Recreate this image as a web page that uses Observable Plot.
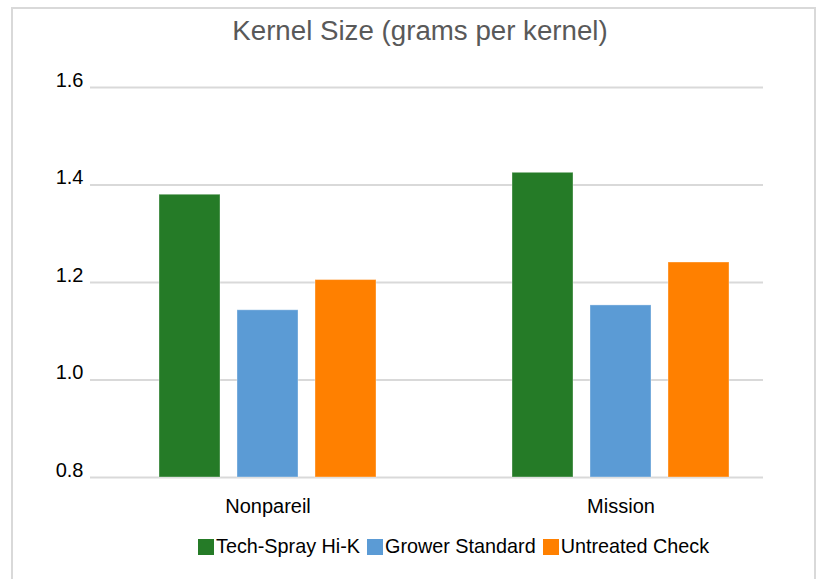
<!DOCTYPE html>
<html>
<head>
<meta charset="utf-8">
<script src="https://cdn.jsdelivr.net/npm/d3@7"></script>
<script src="https://cdn.jsdelivr.net/npm/@observablehq/plot@0.6"></script>
<style>
  html, body { margin: 0; padding: 0; background: #fff; overflow: hidden; }
  body { width: 821px; height: 579px; position: relative; font-family: "Liberation Sans", Arial, sans-serif; }
  #frame { position: absolute; left: 11px; top: 7px; width: 801px; height: 620px; border: 2px solid #d9d9d9; box-sizing: content-box; }
  #title { position: absolute; left: 0; width: 840px; top: 17px; text-align: center; font-size: 27.7px; line-height: 27.7px; color: #595959; white-space: nowrap; }
  .layer { position: absolute; left: 0; top: 0; }
  #legend { position: absolute; left: 198px; top: 535px; display: flex; align-items: center; font-size: 19.8px; color: #000; white-space: nowrap; }
  .item { display: flex; align-items: center; margin-right: 7px; }
  .sw { width: 16px; height: 16px; display: inline-block; margin-right: 2px; }
</style>
</head>
<body>
<div id="frame"></div>
<div id="title">Kernel Size (grams per kernel)</div>
<div id="grid" class="layer"></div>
<div id="chart" class="layer"></div>
<div id="legend"></div>
<script>
// ---- data ----
const categories = ["Nonpareil", "Mission"];
const series = ["Tech-Spray Hi-K", "Grower Standard", "Untreated Check"];
const techSprayHiK = [1.38, 1.425];
const growerStandard = [1.143, 1.153];
const untreatedCheck = [1.205, 1.241];
const yTicks = [0.8, 1.0, 1.2, 1.4, 1.6];
const seriesColors = ["#257b27", "#5b9bd5", "#ff8000"];

const seriesValues = [techSprayHiK, growerStandard, untreatedCheck];
const rows = [];
categories.forEach((c, i) => {
  series.forEach((s, j) => rows.push({category: c, series: s, value: seriesValues[j][i]}));
});

const font = "'Liberation Sans', Arial, sans-serif";
const common = {
  width: 821,
  height: 522,
  marginTop: 87,
  marginBottom: 45,
  marginLeft: 90,
  marginRight: 58,
  style: {fontFamily: font, background: "none", color: "#000"},
  y: {domain: [yTicks[0], yTicks[yTicks.length - 1]]}
};

// background layer: gridlines + y axis
const grid = Plot.plot({
  ...common,
  marks: [
    Plot.ruleY(yTicks, {stroke: "#d9d9d9", strokeWidth: 2}),
    Plot.axisY({ticks: yTicks, tickFormat: d3.format(".1f"), tickSize: 0, tickPadding: 7, dy: -7, fontSize: 20, label: null, fill: "#000"})
  ]
});
document.getElementById("grid").appendChild(grid);

// foreground layer: grouped bars
const chart = Plot.plot({
  ...common,
  fx: {domain: categories, range: [91, 797], paddingInner: 0, paddingOuter: 0},
  x: {domain: series, paddingInner: 0.22, paddingOuter: 0.87},
  color: {domain: series, range: seriesColors},
  marks: [
    Plot.barY(rows, {fx: "category", x: "series", y1: yTicks[0], y2: "value", fill: "series", stroke: "#ffffff", strokeOpacity: 0.35, strokeWidth: 1}),
    Plot.axisFx({anchor: "bottom", tickSize: 0, tickPadding: 21, fontSize: 20, label: null, fill: "#000"}),
    Plot.axisX({ticks: [], label: null, tickSize: 0}),
    Plot.axisY({ticks: [], label: null, tickSize: 0})
  ]
});
document.getElementById("chart").appendChild(chart);

// ---- legend ----
const legend = document.getElementById("legend");
series.forEach((s, j) => {
  const item = document.createElement("div");
  item.className = "item";
  const sw = document.createElement("span");
  sw.className = "sw";
  sw.style.background = seriesColors[j];
  const t = document.createElement("span");
  t.textContent = s;
  item.appendChild(sw);
  item.appendChild(t);
  legend.appendChild(item);
});
</script>
</body>
</html>
